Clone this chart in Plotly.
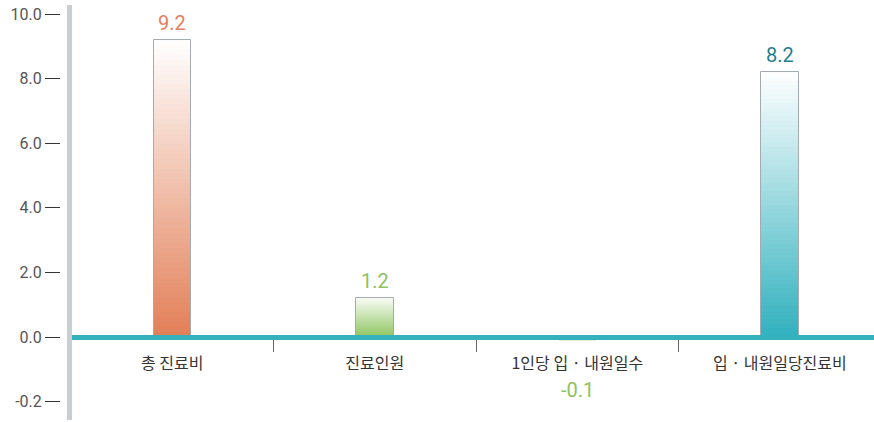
import plotly.graph_objects as go

categories = ["총 진료비", "진료인원", "1인당 입 · 내원일수", "입 · 내원일당진료비"]
values = [9.2, 1.2, -0.1, 8.2]
value_labels = ["9.2", "1.2", "-0.1", "8.2"]
label_colors = ["#E5805C", "#8DC25F", "#8DC25F", "#1F7D8F"]
bottom_colors = ["#E27F57", "#8CC45E", "#B9DC98", "#31B1BE"]
top_colors = ["#FFFFFF", "#F7FBF3", "#E3F1D6", "#FFFFFF"]

ytick_vals = [-2, 0, 2, 4, 6, 8, 10]
ytick_text = ["-0.2", "0.0", "2.0", "4.0", "6.0", "8.0", "10.0"]

Y_MIN, Y_MAX = -2.57, 10.28
N = 60


def hex2rgb(h):
    h = h.lstrip("#")
    return tuple(int(h[i:i + 2], 16) for i in (0, 2, 4))


def mix(c1, c2, t):
    a, b = hex2rgb(c1), hex2rgb(c2)
    return "rgb(%d,%d,%d)" % tuple(round(a[i] + (b[i] - a[i]) * t) for i in range(3))


fig = go.Figure()
W = 0.185
for k in range(N):
    t = (k + 0.5) / N
    fig.add_trace(go.Bar(
        x=categories,
        y=[v / N for v in values],
        base=[v * k / N for v in values],
        marker=dict(color=[mix(bottom_colors[i], top_colors[i], t) for i in range(len(values))],
                    line=dict(width=0)),
        width=W, hoverinfo="skip", showlegend=False,
    ))

# outline
fig.add_trace(go.Bar(
    x=categories, y=values, width=W,
    marker=dict(color="rgba(0,0,0,0)", line=dict(color="#A3AAB1", width=1)),
    showlegend=False, hoverinfo="skip",
))

for i, (c, v) in enumerate(zip(categories, values)):
    fig.add_annotation(
        x=c, y=v if v > 0 else 0, text=value_labels[i], showarrow=False,
        yanchor="middle",
        yshift=17 if v > 0 else -53,
        font=dict(family="Roboto, Noto Sans", size=20, color=label_colors[i]),
    )

PLOT_W = 814
# gray left axis line
fig.add_shape(type="line", xref="paper", yref="paper", x0=9.5 / PLOT_W, x1=9.5 / PLOT_W, y0=0, y1=1,
              line=dict(color="#C9CED3", width=5), layer="above")

fig.update_layout(
    width=874, height=422,
    margin=dict(l=60, r=0, t=5, b=2, autoexpand=False),
    paper_bgcolor="white", plot_bgcolor="white",
    barmode="overlay", bargap=0,
    xaxis=dict(
        domain=[11 / PLOT_W, 1],
        anchor="free", position=(0 - Y_MIN) / (Y_MAX - Y_MIN),
        range=[-0.5, 3.465],
        showline=True, linecolor="#35B1BE", linewidth=5,
        ticks="outside", tickson="boundaries", ticklen=12, tickcolor="#666", tickwidth=1,
        ticklabelstandoff=10,
        tickfont=dict(family="Noto Sans CJK KR", size=16, color="#333"),
        showgrid=False, zeroline=False, layer="above traces", automargin=False,
    ),
    yaxis=dict(
        anchor="free", position=0,
        range=[Y_MIN, Y_MAX],
        tickvals=ytick_vals, ticktext=ytick_text,
        ticks="outside", ticklen=15, tickcolor="#333", tickwidth=1,
        tickfont=dict(family="Roboto", size=16, color="#555"),
        showgrid=False, zeroline=False, showline=False, automargin=False,
    ),
)

fig.write_html("out.html", config={"displayModeBar": False},
               post_script="document.body.style.margin='0';")
